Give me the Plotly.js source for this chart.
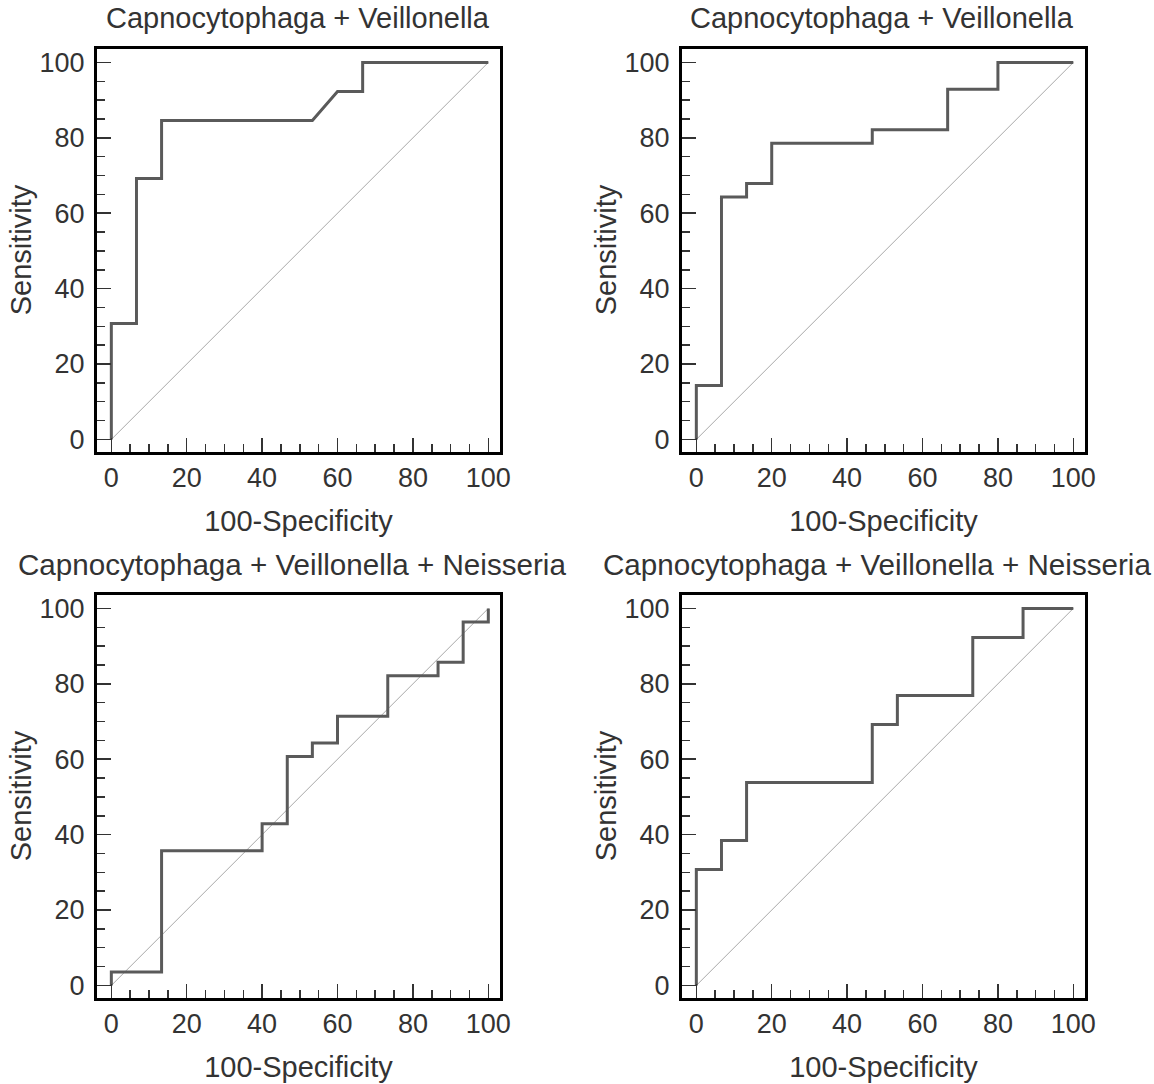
<!DOCTYPE html>
<html>
<head>
<meta charset="utf-8">
<script src="https://cdn.plot.ly/plotly-3.0.1.min.js"></script>
<style>html,body{margin:0;padding:0;background:#fff;}#chart{width:1154px;height:1084px;}</style>
</head>
<body>
<div id="chart"></div>
<script>
// Panel titles
const panelTitles = [
  "Capnocytophaga + Veillonella",
  "Capnocytophaga + Veillonella",
  "Capnocytophaga + Veillonella + Neisseria",
  "Capnocytophaga + Veillonella + Neisseria"
];
const xTitle = "100-Specificity";
const yTitle = "Sensitivity";
const tickVals = [0, 20, 40, 60, 80, 100];

// ROC curves (100-Specificity, Sensitivity)
const fpr1 = [0, 0, 6.67, 6.67, 13.33, 13.33, 53.33, 60, 66.67, 66.67, 100];
const sens1 = [0, 30.77, 30.77, 69.23, 69.23, 84.62, 84.62, 92.31, 92.31, 100, 100];

const fpr2 = [0, 0, 6.67, 6.67, 13.33, 13.33, 20, 20, 46.67, 46.67, 66.67, 66.67, 80, 80, 100];
const sens2 = [0, 14.29, 14.29, 64.29, 64.29, 67.86, 67.86, 78.57, 78.57, 82.14, 82.14, 92.86, 92.86, 100, 100];

const fpr3 = [0, 0, 13.33, 13.33, 40, 40, 46.67, 46.67, 53.33, 53.33, 60, 60, 73.33, 73.33, 86.67, 86.67, 93.33, 93.33, 100, 100];
const sens3 = [0, 3.57, 3.57, 35.71, 35.71, 42.86, 42.86, 60.71, 60.71, 64.29, 64.29, 71.43, 71.43, 82.14, 82.14, 85.71, 85.71, 96.43, 96.43, 100];

const fpr4 = [0, 0, 6.67, 6.67, 13.33, 13.33, 46.67, 46.67, 53.33, 53.33, 73.33, 73.33, 86.67, 86.67, 100];
const sens4 = [0, 30.77, 30.77, 38.46, 38.46, 53.85, 53.85, 69.23, 69.23, 76.92, 76.92, 92.31, 92.31, 100, 100];

// reference diagonal
const diagX = [0, 100];
const diagY = [0, 100];

const curves = [[fpr1, sens1], [fpr2, sens2], [fpr3, sens3], [fpr4, sens4]];

const W = 1154, H = 1084;
// plot frames in pixels: [left, right, top, bottom]
const frames = [
  [97, 500, 48.5, 451.5],
  [682, 1085, 48.5, 451.5],
  [97, 500, 594.5, 997.5],
  [682, 1085, 594.5, 997.5]
];
// horizontal nudge (px) and size of each panel title
const titleShift = [-1, -2, -7, -7];
const titleSize = [29, 29, 29.6, 29.6];

const FONT = '"Liberation Sans", Arial, Helvetica, sans-serif';
const TXT = '#333333';
const traces = [];
const layout = {
  width: W, height: H,
  margin: {l: 0, r: 0, t: 0, b: 0},
  paper_bgcolor: '#ffffff',
  plot_bgcolor: '#ffffff',
  showlegend: false,
  font: {family: FONT, color: TXT},
  annotations: []
};

curves.forEach((c, i) => {
  const n = i + 1;
  const xa = n === 1 ? 'x' : 'x' + n;
  const ya = n === 1 ? 'y' : 'y' + n;
  traces.push({
    x: diagX, y: diagY, xaxis: xa, yaxis: ya,
    type: 'scatter', mode: 'lines',
    line: {color: '#a8a8a8', width: 1},
    hoverinfo: 'skip'
  });
  traces.push({
    x: c[0], y: c[1], xaxis: xa, yaxis: ya,
    type: 'scatter', mode: 'lines',
    line: {color: '#5a5a5a', width: 3},
    name: panelTitles[i]
  });
  const f = frames[i];
  const axCommon = {
    tickmode: 'array', tickvals: tickVals,
    ticks: 'inside', ticklen: 14, tickwidth: 1.5, tickcolor: TXT,
    minor: {dtick: 5, tick0: 0, ticks: 'inside', ticklen: 8, tickwidth: 1.5, tickcolor: TXT, showgrid: false},
    showgrid: false, zeroline: false,
    showline: true, linecolor: '#000000', linewidth: 3, mirror: true,
    tickfont: {family: FONT, size: 27, color: TXT},
    fixedrange: true
  };
  layout['xaxis' + (n === 1 ? '' : n)] = Object.assign({}, axCommon, {
    domain: [f[0] / W, f[1] / W],
    anchor: ya,
    range: [-3.8, 103.1],
    ticklabelstandoff: 0,
    title: {text: xTitle, font: {family: FONT, size: 29, color: TXT}, standoff: 19}
  });
  layout['yaxis' + (n === 1 ? '' : n)] = Object.assign({}, axCommon, {
    domain: [1 - f[3] / H, 1 - f[2] / H],
    anchor: xa,
    range: [-3.2, 103.7],
    ticklabelstandoff: 4,
    title: {text: yTitle, font: {family: FONT, size: 29, color: TXT}, standoff: 0}
  });
  layout.annotations.push({
    text: panelTitles[i],
    xref: 'paper', yref: 'paper',
    x: ((f[0] + f[1]) / 2 + titleShift[i]) / W,
    y: 1 - (f[2] - 30) / H,
    xanchor: 'center', yanchor: 'middle',
    showarrow: false,
    font: {family: FONT, size: titleSize[i], color: TXT}
  });
});

Plotly.newPlot('chart', traces, layout, {staticPlot: true, displayModeBar: false});
</script>
</body>
</html>
